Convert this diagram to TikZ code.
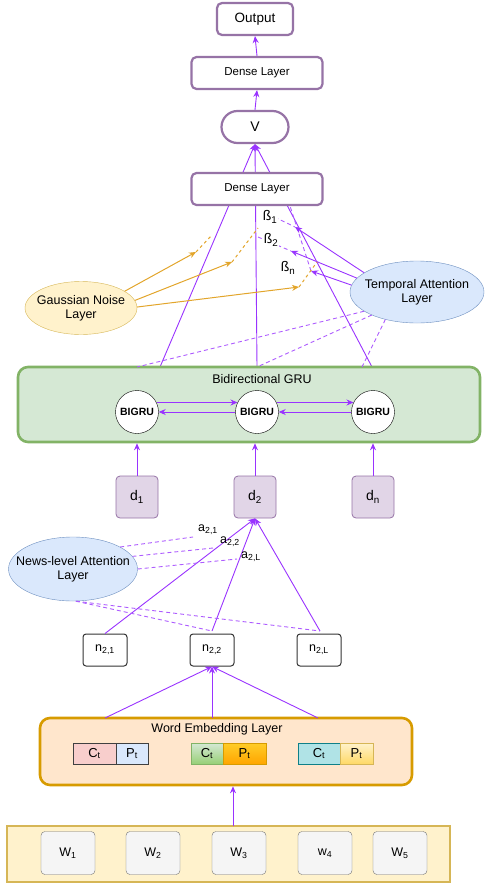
\documentclass[tikz,border=0pt]{standalone}
\usepackage{fontspec}
\setmainfont{Liberation Sans}
\usepackage{xcolor}
\usetikzlibrary{arrows.meta,shapes.geometric}

\definecolor{linkpurple}{HTML}{9933FF}
\definecolor{boxpurple}{HTML}{9673A6}
\definecolor{dfill}{HTML}{E1D5E7}
\definecolor{grufill}{HTML}{D5E8D4}
\definecolor{grudraw}{HTML}{82B366}
\definecolor{embfill}{HTML}{FFE6CC}
\definecolor{embdraw}{HTML}{D79B00}
\definecolor{seqfill}{HTML}{FFF2CC}
\definecolor{seqdraw}{HTML}{D6B656}
\definecolor{bluefill}{HTML}{DAE8FC}
\definecolor{bluedraw}{HTML}{6C8EBF}
\definecolor{noisegold}{HTML}{E2A52B}
\definecolor{ctpink}{HTML}{F8CECC}
\definecolor{ctgreen}{HTML}{97D077}
\definecolor{ptorange}{HTML}{FFA500}
\definecolor{ptyellow}{HTML}{FFCD28}
\definecolor{ctteal}{HTML}{B0E3E6}
\definecolor{ctteald}{HTML}{0E8088}
\definecolor{ptpale}{HTML}{FFD966}

\tikzset{
  lbl/.style={font=\fontsize{12.5}{14}\selectfont},
  biglbl/.style={font=\fontsize{14}{16}\selectfont},
  layerbox/.style={draw=boxpurple,line width=2.2pt,fill=white,rounded corners=5pt,
    minimum height=32pt,inner sep=0pt,font=\fontsize{11.5}{13}\selectfont},
  grucell/.style={draw,circle,fill=white,minimum size=43pt,inner sep=0pt,
    font=\fontsize{10.5}{12}\bfseries},
  dbox/.style={draw=boxpurple,fill=dfill,rounded corners=4pt,line width=0.8pt,
    minimum size=42pt,inner sep=0pt,biglbl},
  nbox/.style={draw=black!80,fill=white,rounded corners=3pt,line width=1pt,
    minimum width=44pt,minimum height=32pt,inner sep=0pt,lbl},
  wbox/.style={draw=black!55,fill=black!4,rounded corners=4pt,minimum width=54pt,
    minimum height=43pt,inner sep=0pt,lbl},
  cell/.style={draw,minimum height=21pt,inner sep=0pt,line width=0.7pt,
    font=\fontsize{13}{14}\selectfont},
  blueell/.style={ellipse,draw=bluedraw,fill=bluefill,inner sep=0pt},
  yellowell/.style={ellipse,draw=seqdraw,fill=seqfill,inner sep=0pt},
  elltext/.style={label={[lbl,align=center]center:#1}},
  link/.style={draw=linkpurple,line width=0.9pt},
  attdash/.style={draw=linkpurple!80,line width=0.9pt,dash pattern={on 4pt off 3pt}},
  noise/.style={draw=noisegold,line width=1pt},
  noisedash/.style={draw=noisegold,line width=1pt,dash pattern={on 3pt off 3pt}},
  wlabel/.style={fill=white,inner sep=1pt,biglbl}
}
\pgfdeclarelayer{bg}
\pgfsetlayers{bg,main}

\begin{document}
\begin{tikzpicture}[x=1pt,y=-1pt,>={Stealth[length=7pt,width=6pt]}]
  \useasboundingbox (0,0) rectangle (485,886);

  % output stack
  \node[layerbox,minimum width=76pt,font=\fontsize{13.5}{15}\selectfont] (out) at (255,19) {Output};
  \node[layerbox,minimum width=131pt] (dense1) at (257,73) {Dense Layer};
  \node[layerbox,minimum width=67pt,rounded corners=16pt,font=\fontsize{14}{15}\selectfont] (vnode) at (255,127) {V};
  \node[layerbox,minimum width=131pt] (dense2) at (257,189) {Dense Layer};

  \draw[link,->] (dense1.north) -- (out.south);
  \draw[link,->] (vnode.north) -- (dense1.south);

  % bidirectional GRU
  \node[draw=grudraw,fill=grufill,line width=2.6pt,rounded corners=10pt,
        minimum width=462pt,minimum height=75pt] (gru) at (249,404.5) {};
  \node[lbl] (grutitle) at (262,379) {Bidirectional GRU};
  \node[grucell] (g1) at (137,412) {BIGRU};
  \node[grucell] (g2) at (257,412) {BIGRU};
  \node[grucell] (g3) at (373,412) {BIGRU};

  \draw[link,->] (g1.26) -- (g2.154);
  \draw[link,->] (g2.west) -- (g1.east);
  \draw[link,->] (g2.26) -- (g3.154);
  \draw[link,->] (g3.west) -- (g2.east);

  \coordinate (gt1) at (160,367);
  \coordinate (gt2) at (257,367);
  \coordinate (gt3) at (372,367);
  \begin{pgfonlayer}{bg}
    \foreach \c in {gt1,gt2,gt3}
      \draw[link,->] (\c) -- (vnode.south);
  \end{pgfonlayer}

  % day vectors
  \node[dbox] (d1) at (137,497) {d\textsubscript{1}};
  \node[dbox] (d2) at (255,497) {d\textsubscript{2}};
  \node[dbox] (dn) at (373,497) {d\textsubscript{n}};
  \foreach \d in {d1,d2,dn}
    \draw[link,->] (\d.north) -- (\d.north |- gru.south);

  % temporal attention and noise
  \node[blueell,minimum width=134pt,minimum height=62pt,
        elltext={Temporal Attention\\Layer}] (ta) at (417,292) {};
  \node[yellowell,minimum width=112pt,minimum height=53pt,
        elltext={Gaussian Noise\\Layer}] (gauss) at (81,308) {};

  \coordinate (gd1) at (137,367);
  \coordinate (gd3) at (362,367);
  \draw[attdash] (ta.200) -- (gd1);
  \draw[attdash] (ta.207) -- (gt2);
  \draw[attdash] (ta.221) -- (gd3);

  \coordinate (bt1) at (295,227);
  \coordinate (bt2) at (291,251);
  \coordinate (btn) at (311,271);
  \coordinate (bs1) at (262,211);
  \coordinate (bs2) at (258,237);
  \coordinate (bsn) at (290,206);
  \draw[attdash] (bs1) -- (bt1);
  \draw[attdash] (bs2) -- (bt2);
  \draw[attdash] (btn) -- (bsn);
  \draw[link,->] (ta.160) -- (bt1);
  \draw[link,->] (ta.167) -- (bt2);
  \draw[link,->] (ta.174) -- (btn);
  \node[wlabel] (b1) at (270,217) {ß\textsubscript{1}};
  \node[wlabel] (b2) at (271,240) {ß\textsubscript{2}};
  \node[wlabel] (bn) at (288,268) {ß\textsubscript{n}};

  \coordinate (nt1) at (196,252);
  \coordinate (nt2) at (232,262);
  \coordinate (nt3) at (299,287);
  \coordinate (ne1) at (212,235);
  \coordinate (ne2) at (258,228);
  \coordinate (ne3) at (317,262);
  \draw[noise,->] (gauss.21) -- (nt1);
  \draw[noise,->] (gauss.8) -- (nt2);
  \draw[noise,->] (gauss.1) -- (nt3);
  \draw[noisedash] (nt1) -- (ne1);
  \draw[noisedash] (nt2) -- (ne2);
  \draw[noisedash] (nt3) -- (ne3);

  % news level
  \node[blueell,minimum width=129pt,minimum height=64pt,
        elltext={News-level Attention\\Layer}] (nla) at (73,569) {};
  \node[nbox] (n21) at (105,650) {n\textsubscript{2,1}};
  \node[nbox] (n22) at (212,650) {n\textsubscript{2,2}};
  \node[nbox] (n2L) at (319,650) {n\textsubscript{2,L}};

  \coordinate (nt22) at (212,631);
  \coordinate (nt2L) at (320,631);
  \draw[link,->] (n21.north) -- (d2.south);
  \draw[link,->] (nt22) -- (d2.south);
  \draw[link,->] (nt2L) -- (d2.south);
  \draw[attdash] (nla.-85) -- (nt22);
  \draw[attdash] (nla.-85) -- (nt2L);

  \coordinate (ae1) at (193,537);
  \coordinate (ae2) at (213,548);
  \coordinate (ae3) at (237,559);
  \draw[attdash] (nla.25) -- (ae1);
  \draw[attdash] (nla.12) -- (ae2);
  \draw[attdash] (nla.0) -- (ae3);
  \node[lbl,inner sep=1pt] (a21) at (208,530) {a\textsubscript{2,1}};
  \node[lbl,inner sep=1pt] (a22) at (230,542) {a\textsubscript{2,2}};
  \node[lbl,inner sep=1pt] (a2L) at (251,557) {a\textsubscript{2,L}};

  % word embedding
  \node[draw=embdraw,fill=embfill,line width=2.6pt,rounded corners=10pt,
        minimum width=372pt,minimum height=67pt] (emb) at (226,751.5) {};
  \node[lbl] (embtitle) at (217,729) {Word Embedding Layer};
  \node[cell,draw=black!75,fill=ctpink,minimum width=43pt] (c1) at (94.5,753.5) {C\textsubscript{t}};
  \node[cell,draw=black!75,fill=bluefill,minimum width=32pt] (p1) at (132,753.5) {P\textsubscript{t}};
  \node[cell,draw=grudraw,top color=grufill,bottom color=ctgreen,minimum width=32pt] (c2) at (207,753.5) {C\textsubscript{t}};
  \node[cell,draw=embdraw,top color=ptyellow,bottom color=ptorange,minimum width=43pt] (p2) at (244.5,753.5) {P\textsubscript{t}};
  \node[cell,draw=ctteald,fill=ctteal,minimum width=42pt] (c3) at (319,753.5) {C\textsubscript{t}};
  \node[cell,draw=seqdraw,top color=seqfill,bottom color=ptpale,minimum width=33pt] (p3) at (356.5,753.5) {P\textsubscript{t}};

  \coordinate (we1) at (105,718);
  \coordinate (we2) at (212,718);
  \coordinate (we3) at (318,718);
  \foreach \c in {we1,we2,we3}
    \draw[link,->] (\c) -- (n22.south);

  % word sequence
  \node[draw=seqdraw,fill=seqfill,line width=2.6pt,minimum width=443pt,minimum height=56pt] (seq) at (228.5,854) {};
  \node[wbox] (w1) at (68,853) {W\textsubscript{1}};
  \node[wbox] (w2) at (153,853) {W\textsubscript{2}};
  \node[wbox] (w3) at (239,853) {W\textsubscript{3}};
  \node[wbox] (w4) at (325,853) {w\textsubscript{4}};
  \node[wbox] (w5) at (400,853) {W\textsubscript{5}};

  \coordinate (sq) at (233,826);
  \draw[link,->] (sq) -- (sq |- emb.south);
\end{tikzpicture}
\end{document}
